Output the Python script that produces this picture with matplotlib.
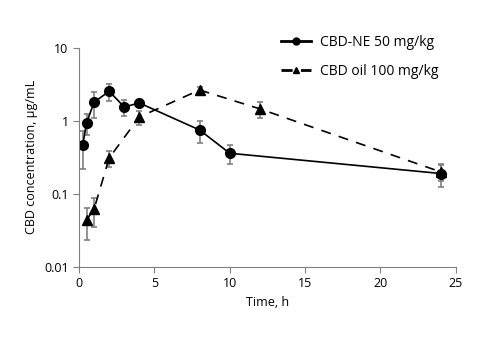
import numpy as np
import matplotlib
matplotlib.use("Agg")
import matplotlib.pyplot as plt
from matplotlib.lines import Line2D

plt.rcParams['font.family'] = ['Open Sans', 'DejaVu Sans']
plt.rcParams['font.size'] = 9

# CBD nanoemulsion, 50 mg/kg
t_ne = [0.25, 0.5, 1, 2, 3, 4, 8, 10, 24]
c_ne = [0.47, 0.94, 1.8, 2.55, 1.55, 1.76, 0.75, 0.36, 0.19]
sd_ne = [0.25, 0.3, 0.7, 0.65, 0.4, 0.2, 0.25, 0.1, 0.065]

# CBD oil, 100 mg/kg
t_oil = [0.5, 1, 2, 4, 8, 12, 24]
c_oil = [0.044, 0.062, 0.31, 1.13, 2.65, 1.46, 0.2]
sd_oil = [0.021, 0.027, 0.08, 0.25, 0.25, 0.37, 0.05]

fig = plt.figure(figsize=(4.97, 3.47), dpi=100)
ax = fig.add_axes([0.159, 0.231, 0.758, 0.631])

err_kw = dict(ecolor="#808080", elinewidth=1.2, capsize=2.5, capthick=1.2)
ax.errorbar(t_ne, c_ne, yerr=sd_ne, fmt="-o", color="black", lw=1.2,
            markersize=7, **err_kw)
ax.errorbar(t_oil, c_oil, yerr=sd_oil, fmt="--^", color="black", lw=1.2,
            markersize=7, dashes=(6, 5), **err_kw)

ax.set_yscale("log")
ax.set_ylim(0.01, 10)
ax.set_xlim(0, 25)
ax.set_xticks([0, 5, 10, 15, 20, 25])
ax.set_yticks([0.01, 0.1, 1, 10])
ax.set_yticklabels(["0.01", "0.1", "1", "10"])
ax.minorticks_off()
ax.set_xlabel("Time, h")
ax.set_ylabel("CBD concentration, µg/mL")

for s in ["top", "right"]:
    ax.spines[s].set_visible(False)
for s in ["left", "bottom"]:
    ax.spines[s].set_color("#808080")
ax.tick_params(direction="out", length=4, color="#808080")

# legend without error bars
handles = [
    Line2D([], [], color="black", lw=2, marker="o", markersize=5),
    Line2D([], [], color="black", lw=2, marker="^", markersize=5,
           linestyle=(0, (4, 3))),
]
fig.legend(handles, ["CBD-NE 50 mg/kg", "CBD oil 100 mg/kg"],
           loc="upper left", bbox_to_anchor=(0.54, 0.935), frameon=False,
           fontsize=10, handlelength=2.2, handletextpad=0.6, labelspacing=1.0)

plt.savefig("out.png", dpi=100)
